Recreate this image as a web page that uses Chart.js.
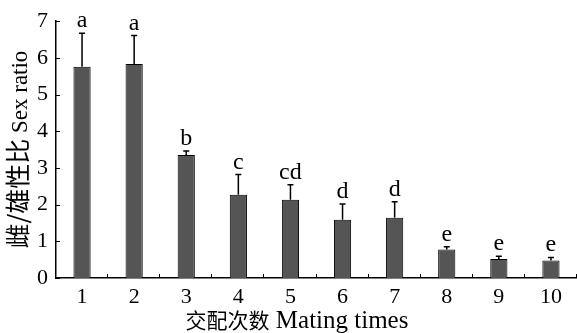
<!DOCTYPE html>
<html>
<head>
<meta charset="utf-8">
<script src="https://cdn.jsdelivr.net/npm/chart.js@4"></script>
<style>
  html, body { margin: 0; padding: 0; background: #fff; }
  #wrap { width: 577px; height: 333px; }
</style>
</head>
<body>
<div id="wrap"><canvas id="c" width="577" height="333"></canvas></div>
<script>
// Mating times on the x axis
const categories = ['1', '2', '3', '4', '5', '6', '7', '8', '9', '10'];
// Mean female/male sex ratio per mating count
const sexRatio = [5.76, 5.83, 3.35, 2.27, 2.13, 1.59, 1.64, 0.78, 0.52, 0.48];
// Upper error (SE) for each mean
const sexRatioErr = [0.91, 0.78, 0.11, 0.55, 0.41, 0.43, 0.44, 0.07, 0.07, 0.08];
// Significance groups
const groupLetters = ['a', 'a', 'b', 'c', 'cd', 'd', 'd', 'e', 'e', 'e'];
// Y axis tick values
const yTickValues = [0, 1, 2, 3, 4, 5, 6, 7];

const SERIF = '"Liberation Serif", "Times New Roman", serif';
const CJK = '"Noto Sans CJK SC", sans-serif';

// Inward tick marks on both axes
const innerTicks = {
  id: 'innerTicks',
  afterDatasetsDraw(chart) {
    const { ctx, chartArea, scales } = chart;
    const x = scales.x, y = scales.y;
    const step = x.getPixelForValue(1) - x.getPixelForValue(0);
    ctx.save();
    ctx.strokeStyle = '#000';
    ctx.lineWidth = 1;
    ctx.beginPath();
    yTickValues.forEach(v => {
      const py = Math.round(y.getPixelForValue(v)) + 0.5;
      ctx.moveTo(chartArea.left, py);
      ctx.lineTo(chartArea.left + 4, py);
    });
    for (let i = 0; i < categories.length; i++) {
      const px = Math.round(x.getPixelForValue(i) + step / 2) - 0.5;
      ctx.moveTo(px, chartArea.bottom);
      ctx.lineTo(px, chartArea.bottom - 4);
    }
    ctx.stroke();
    ctx.restore();
  }
};

// Upper error bars with caps, and group letters above them
const errorBars = {
  id: 'errorBars',
  afterDatasetsDraw(chart) {
    const { ctx, scales } = chart;
    const meta = chart.getDatasetMeta(0);
    ctx.save();
    ctx.strokeStyle = '#000';
    ctx.lineWidth = 1.5;
    ctx.fillStyle = '#000';
    ctx.font = '24px ' + SERIF;
    ctx.textAlign = 'center';
    ctx.textBaseline = 'alphabetic';
    meta.data.forEach((bar, i) => {
      const cx = bar.x;
      const yTop = scales.y.getPixelForValue(sexRatio[i]);
      const yErr = scales.y.getPixelForValue(sexRatio[i] + sexRatioErr[i]);
      ctx.beginPath();
      ctx.moveTo(cx, yTop);
      ctx.lineTo(cx, yErr);
      ctx.moveTo(cx - 3, yErr);
      ctx.lineTo(cx + 3, yErr);
      ctx.stroke();
      ctx.fillText(groupLetters[i], cx, yErr - 6);
    });
    ctx.restore();
  }
};

// Axis captions mixing Chinese and Latin runs
function drawRuns(ctx, runs, cx, cy, rotate) {
  ctx.save();
  ctx.translate(cx, cy);
  if (rotate) ctx.rotate(-Math.PI / 2);
  ctx.textBaseline = 'alphabetic';
  ctx.textAlign = 'left';
  let total = 0;
  runs.forEach(r => { ctx.font = r.font; r.w = ctx.measureText(r.text).width; total += r.w; });
  let x = -total / 2;
  runs.forEach(r => {
    ctx.font = r.font;
    ctx.fillStyle = '#000';
    ctx.fillText(r.text, x, 8);
    x += r.w;
  });
  ctx.restore();
}
const axisCaptions = {
  id: 'axisCaptions',
  afterDraw(chart) {
    const { ctx, chartArea } = chart;
    drawRuns(ctx, [
      { text: '交配次数', font: '21px ' + CJK },
      { text: ' Mating times', font: '25px ' + SERIF }
    ], chartArea.left + 241, 320, false);
    drawRuns(ctx, [
      { text: '雌/雄性比', font: '25px ' + CJK },
      { text: ' Sex ratio', font: '23px ' + SERIF }
    ], 19, (chartArea.top + chartArea.bottom) / 2, true);
  }
};

new Chart(document.getElementById('c'), {
  type: 'bar',
  data: {
    labels: categories,
    datasets: [{
      data: sexRatio,
      backgroundColor: '#555555',
      borderColor: '#000',
      borderWidth: 1,
      barPercentage: 0.33,
      categoryPercentage: 1
    }]
  },
  options: {
    responsive: false,
    animation: false,
    devicePixelRatio: 1,
    layout: { padding: { top: 19, right: 0, left: 0, bottom: 0 } },
    plugins: { legend: { display: false }, tooltip: { enabled: false } },
    scales: {
      x: {
        type: 'category',
        offset: true,
        grid: { display: false, drawTicks: false },
        border: { display: true, color: '#000', width: 1.5 },
        ticks: { color: '#000', font: { family: SERIF, size: 22 }, padding: 6, maxRotation: 0 },
        afterFit(scale) { scale.height = 55; }
      },
      y: {
        min: 0,
        max: 7,
        grid: { display: false, drawTicks: false },
        border: { display: true, color: '#000', width: 1.5 },
        ticks: { stepSize: 1, color: '#000', font: { family: SERIF, size: 22 }, padding: 8 },
        afterFit(scale) { scale.width = 56; }
      }
    }
  },
  plugins: [innerTicks, errorBars, axisCaptions]
});
</script>
</body>
</html>
